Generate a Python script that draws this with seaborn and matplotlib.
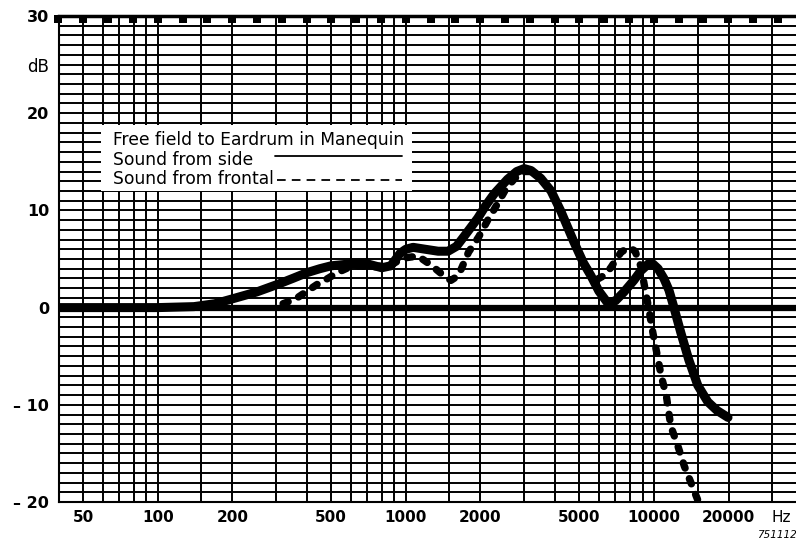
import numpy as np
import matplotlib.pyplot as plt
from matplotlib.patches import Rectangle
import seaborn as sns

# free field to eardrum response in manequin (Hz, dB)
side_hz = [40, 100, 140, 170, 200, 250, 305, 350, 400, 450, 500, 600, 700, 800,
           870, 950, 1000, 1070, 1200, 1350, 1480, 1600, 1750, 1950, 2100, 2270,
           2570, 2800, 3000, 3200, 3500, 3850, 4220, 4750, 5200, 5570, 6000, 6500,
           7000, 7570, 8300, 8870, 9500, 9900, 10400, 10970, 11500, 12050, 12850,
           13840, 15030, 16500, 18000, 19900]
side_db = [0.0, 0.0, 0.1, 0.4, 0.9, 1.6, 2.4, 3.0, 3.6, 4.0, 4.3, 4.5, 4.5, 4.1,
           4.3, 5.6, 6.0, 6.2, 6.0, 5.8, 5.8, 6.3, 7.6, 9.2, 10.5, 11.7,
           13.2, 14.0, 14.3, 14.1, 13.3, 12.0, 9.9, 6.8, 4.6, 3.3, 1.7, 0.5,
           0.7, 1.6, 2.8, 3.8, 4.5, 4.5, 4.0, 3.0, 1.8, 0.0, -2.6,
           -5.4, -8.0, -9.7, -10.6, -11.3]

front_hz = [320, 360, 395, 440, 485, 530, 585, 650, 750, 870, 980, 1120, 1260,
            1420, 1520, 1630, 1790, 1970, 2150, 2370, 2530, 2730, 2950, 3200,
            3500, 3850, 4220, 4750, 5200, 5600, 5900, 6300, 6700, 7370, 7950,
            8400, 8870, 9200, 9550, 9910, 10370, 10700, 11230, 11700, 12480,
            13260, 14100, 15030]
front_db = [0.4, 0.9, 1.6, 2.4, 3.0, 3.6, 4.1, 4.3, 4.2, 4.4, 5.1, 5.3, 4.4,
            3.3, 2.8, 3.3, 5.7, 7.3, 9.1, 10.9, 12.2, 13.2, 14.0, 14.0,
            13.3, 12.0, 9.9, 6.8, 4.6, 3.4, 2.9, 3.3, 4.1, 5.7, 6.2,
            5.8, 4.2, 2.0, -0.2, -2.6, -5.2, -7.0, -9.1, -12.2, -14.2,
            -16.3, -18.0, -19.8]

x_ticks = [50, 100, 200, 500, 1000, 2000, 5000, 10000, 20000, 32700]
x_labels = ['50', '100', '200', '500', '1000', '2000', '5000', '10000', '20000', 'Hz']
y_ticks = [-20, -10, 0, 10, 20, 25, 30]
y_labels = ['\u2013 20', '\u2013 10', '0', '10', '20', 'dB', '30']

sns.set_theme(style='white')
plt.rcParams['font.family'] = ['DejaVu Sans']
for k in ('text.color', 'axes.labelcolor', 'xtick.color', 'ytick.color'):
    plt.rcParams[k] = 'black'

fig, ax = plt.subplots(figsize=(7.96, 5.44), dpi=100)
fig.subplots_adjust(left=59 / 796, right=1.0, bottom=42 / 544, top=528 / 544)

ax.set_xscale('log')
ax.set_xlim(40, 37400)
ax.set_ylim(-20, 30)

# chart paper: 1 dB lines, 1-1.5-2-3..9 lines per decade
grid_x = [m * 10 ** d for d in (1, 2, 3, 4) for m in (1, 1.5, 2, 3, 4, 5, 6, 7, 8, 9)]
for v in grid_x:
    ax.axvline(v, color='black', lw=1.4, zorder=1)
for h in range(-20, 31):
    ax.axhline(h, color='black', lw=1.4, zorder=1)
ax.axhline(0, color='black', lw=4.5, zorder=2)

# recorder marks along the top edge
marks = 10 ** np.arange(1.6, 4.55, 0.1)
ax.plot(marks, [29.65] * len(marks), 's', ms=5.2, mew=0, color='black',
        zorder=3, clip_on=False)

sns.lineplot(x=side_hz, y=side_db, ax=ax, color='black', lw=6.5,
             solid_capstyle='round', zorder=4)
sns.lineplot(x=front_hz, y=front_db, ax=ax, color='black', lw=5.3,
             linestyle=(0, (0.75, 1.55)), dash_capstyle='round', zorder=4)

ax.set_xticks(x_ticks, x_labels)
ax.minorticks_off()
ax.set_yticks(y_ticks, y_labels)
ax.tick_params(axis='both', which='both', length=0)
ax.tick_params(axis='x', pad=5.5)
ax.tick_params(axis='y', pad=7)
for t in ax.get_xticklabels():
    t.set_fontsize(11)
    t.set_fontweight('normal' if t.get_text() == 'Hz' else 'bold')
for t in ax.get_yticklabels():
    if t.get_text() == 'dB':
        t.set_fontsize(12)
    else:
        t.set_fontsize(11.5)
        t.set_fontweight('bold')

ax.spines['right'].set_visible(False)
ax.spines['top'].set_linewidth(2.5)
ax.spines['left'].set_linewidth(1.5)
ax.spines['bottom'].set_linewidth(1.5)
for s in ax.spines.values():
    s.set_color('black')
    s.set_zorder(3)

# key box (white patch over the paper grid)
ax.add_patch(Rectangle((0.057, 0.640), 0.422, 0.136, transform=ax.transAxes,
                       facecolor='white', edgecolor='none', zorder=5))
ax.text(0.0728, 0.7346, 'Free field to Eardrum in Manequin', transform=ax.transAxes,
        fontsize=12.3, va='baseline', ha='left', zorder=6)
ax.text(0.0728, 0.6944, 'Sound from side', transform=ax.transAxes,
        fontsize=12.3, va='baseline', ha='left', zorder=6)
ax.text(0.0728, 0.6543, 'Sound from frontal', transform=ax.transAxes,
        fontsize=12.3, va='baseline', ha='left', zorder=6)
ax.plot([0.293, 0.4654], [0.711, 0.711], transform=ax.transAxes, color='black',
        lw=1.3, zorder=6)
ax.plot([0.296, 0.4654], [0.662, 0.662], transform=ax.transAxes, color='black',
        lw=1.3, ls=(0, (4.8, 3.4)), zorder=6)

fig.text(757 / 796, 1 - 535 / 544, '751112', ha='left', va='center',
         style='italic', fontsize=7.5)

plt.savefig('out.png', dpi=100)
